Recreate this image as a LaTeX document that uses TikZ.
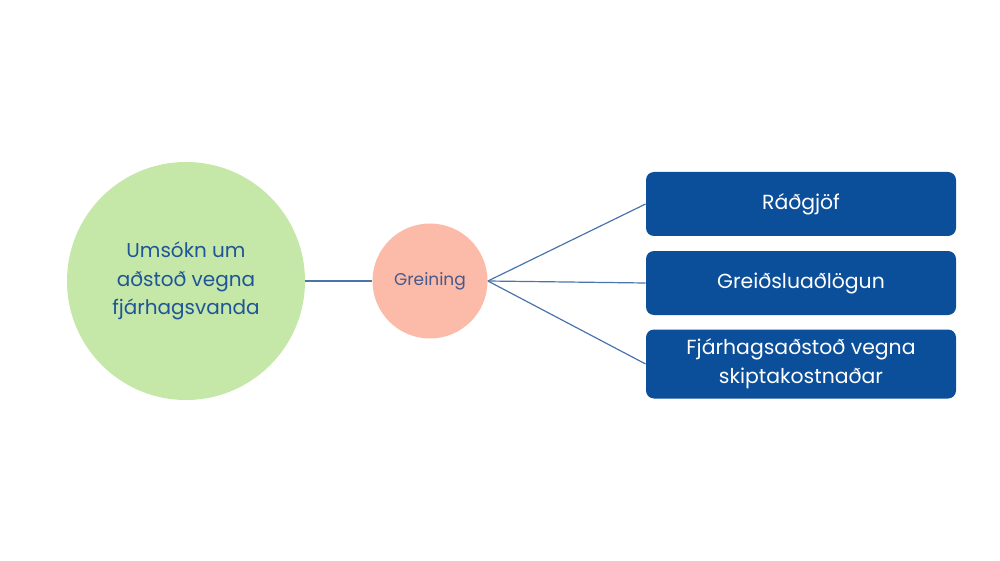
\documentclass[tikz,border=0pt]{standalone}
\usepackage{fontspec}
\setmainfont{Poppins}
\usetikzlibrary{positioning}
\definecolor{request}{RGB}{197,232,168}
\definecolor{review}{RGB}{251,187,168}
\definecolor{service}{RGB}{11,78,154}
\definecolor{linkline}{RGB}{74,116,170}
\definecolor{reqtext}{RGB}{31,85,150}
\definecolor{revtext}{RGB}{74,88,138}
\tikzset{
  requestnode/.style={circle,fill=request,text=reqtext,minimum size=119pt,inner sep=0pt,
    align=center,font=\fontsize{10}{14.25}\selectfont},
  reviewnode/.style={circle,fill=review,text=revtext,minimum size=57.5pt,inner sep=0pt,
    font=\fontsize{8.5}{10}\selectfont},
  servicebox/.style={rectangle,rounded corners=4pt,fill=service,text=white,
    minimum width=155pt,minimum height=32pt,inner sep=0pt,align=center,
    font=\fontsize{10.2}{14.5}\selectfont},
  link/.style={draw=linkline,line width=0.6pt}
}
\begin{document}
\begin{tikzpicture}[x=0.5pt,y=-0.5pt]
\useasboundingbox (0,0) rectangle (1000,561);
% left: request and review
\node[requestnode] (umsokn) at (186,281) {Umsókn um\\aðstoð vegna\\fjárhagsvanda};
\node[reviewnode] (greining) at (430,281) {Greining};
% right: outcomes
\node[servicebox] (radgjof) at (801,204) {Ráðgjöf};
\node[servicebox] (greidslu) at (801,283) {Greiðsluaðlögun};
\node[servicebox,minimum height=34.5pt] (fjarhags) at (801,364) {Fjárhagsaðstoð vegna\\skiptakostnaðar};
% connectors
\draw[link] (umsokn) -- (greining);
\foreach \t in {radgjof,greidslu,fjarhags}
  \draw[link] (greining.east) -- (\t.west);
\end{tikzpicture}
\end{document}
